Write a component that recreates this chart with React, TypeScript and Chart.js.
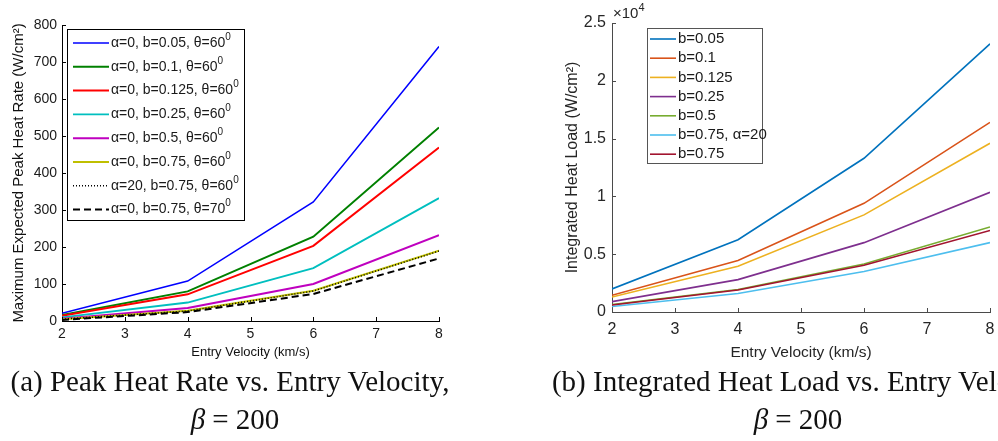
import React, { useEffect, useRef } from 'react';
import { Chart, registerables } from 'chart.js';

Chart.register(...registerables);

// ---------- data ----------
const velocities = [2, 4, 6, 8];
const velocityTicks = [2, 3, 4, 5, 6, 7, 8];

// (a) Maximum expected peak heat rate, W/cm^2
const peakLabels = [
  'α=0, b=0.05, θ=60^0',
  'α=0, b=0.1, θ=60^0',
  'α=0, b=0.125, θ=60^0',
  'α=0, b=0.25, θ=60^0',
  'α=0, b=0.5, θ=60^0',
  'α=0, b=0.75, θ=60^0',
  'α=20, b=0.75, θ=60^0',
  'α=0, b=0.75, θ=70^0',
];
const peakB005 = [21, 108, 322, 742];
const peakB01 = [16, 80, 228, 523];
const peakB0125 = [14, 72, 203, 469];
const peakB025 = [10, 50, 143, 332];
const peakB05 = [6, 35, 100, 232];
const peakB075 = [5, 28, 82, 190];
const peakB075a20 = [5, 27, 81, 189];
const peakB075t70 = [3, 24, 73, 169];
const peakSeries = [peakB005, peakB01, peakB0125, peakB025, peakB05, peakB075, peakB075a20, peakB075t70];
const peakYTicks = [0, 100, 200, 300, 400, 500, 600, 700, 800];

// (b) Integrated heat load, W/cm^2
const loadLabels = ['b=0.05', 'b=0.1', 'b=0.125', 'b=0.25', 'b=0.5', 'b=0.75, α=20', 'b=0.75'];
const loadB005 = [2000, 6250, 13300, 23200];
const loadB01 = [1450, 4450, 9400, 16400];
const loadB0125 = [1300, 3950, 8400, 14600];
const loadB025 = [900, 2800, 6000, 10350];
const loadB05 = [650, 1950, 4150, 7350];
const loadB075a20 = [480, 1600, 3500, 6000];
const loadB075 = [600, 1900, 4050, 7050];
const loadSeries = [loadB005, loadB01, loadB0125, loadB025, loadB05, loadB075a20, loadB075];
const loadYTicks = [0, 5000, 10000, 15000, 20000, 25000];

// ---------- styles ----------
const peakColors = ['#0000FF', '#008000', '#FF0000', '#00BFBF', '#BF00BF', '#BFBF00', '#000000', '#000000'];
const peakWidths = [1.5, 2, 2, 1.8, 2, 2, 1.5, 2];
const peakDashes: number[][] = [[], [], [], [], [], [], [1, 2], [7, 4]];
const loadColors = ['#0072BD', '#D95319', '#EDB120', '#7E2F8E', '#77AC30', '#4DBEEE', '#A2142F'];

const SANS = '"Liberation Sans", Arial, sans-serif';

function drawRich(ctx: CanvasRenderingContext2D, text: string, x: number, y: number, size: number, family: string) {
  let cx = x;
  const parts = text.split('^');
  parts.forEach((p, i) => {
    let rest = p;
    if (i > 0 && p.length) {
      const sup = p[0];
      rest = p.slice(1);
      ctx.font = `${Math.round(size * 0.7)}px ${family}`;
      ctx.fillText(sup, cx, y - size * 0.42);
      cx += ctx.measureText(sup).width;
    }
    ctx.font = `${size}px ${family}`;
    ctx.fillText(rest, cx, y);
    cx += ctx.measureText(rest).width;
  });
}

const boxLegend = {
  id: 'boxLegend',
  afterDatasetsDraw(chart: any, _args: any, o: any) {
    const ctx: CanvasRenderingContext2D = chart.ctx;
    const ca = chart.chartArea;
    const x = ca.left + o.dx;
    const y = ca.top + o.dy;
    ctx.save();
    ctx.fillStyle = '#ffffff';
    ctx.fillRect(x, y, o.w, o.h);
    ctx.strokeStyle = o.borderColor;
    ctx.lineWidth = 1;
    ctx.strokeRect(x + 0.5, y + 0.5, o.w, o.h);
    chart.data.datasets.forEach((ds: any, i: number) => {
      const yy = y + o.first + i * o.rowH;
      ctx.setLineDash(ds.borderDash || []);
      ctx.strokeStyle = ds.borderColor;
      ctx.lineWidth = ds.borderWidth;
      ctx.beginPath();
      ctx.moveTo(x + o.s0, yy);
      ctx.lineTo(x + o.s1, yy);
      ctx.stroke();
      ctx.setLineDash([]);
      ctx.fillStyle = o.color;
      ctx.textBaseline = 'middle';
      ctx.textAlign = 'left';
      drawRich(ctx, ds.label, x + o.tx, yy, o.size, SANS);
    });
    ctx.restore();
  },
};

const inwardTicks = {
  id: 'inwardTicks',
  afterDraw(chart: any, _args: any, o: any) {
    const ctx: CanvasRenderingContext2D = chart.ctx;
    const ca = chart.chartArea;
    const xs = chart.scales.x;
    const ys = chart.scales.y;
    ctx.save();
    ctx.strokeStyle = o.color;
    ctx.lineWidth = 1;
    ctx.beginPath();
    xs.ticks.forEach((t: any) => {
      const px = Math.round(xs.getPixelForValue(t.value)) + 0.5;
      ctx.moveTo(px, ca.bottom);
      ctx.lineTo(px, ca.bottom - o.len);
    });
    ys.ticks.forEach((t: any) => {
      const py = Math.round(ys.getPixelForValue(t.value)) + 0.5;
      ctx.moveTo(ca.left, py);
      ctx.lineTo(ca.left + o.len, py);
    });
    ctx.stroke();
    if (o.exponent) {
      ctx.fillStyle = o.textColor;
      ctx.textBaseline = 'middle';
      ctx.textAlign = 'left';
      drawRich(ctx, o.exponent, ca.left + 1, 14, 15, SANS);
    }
    ctx.restore();
  },
};

function makeConfig(kind: 'peak' | 'load'): any {
  const isPeak = kind === 'peak';
  const series = isPeak ? peakSeries : loadSeries;
  const labels = isPeak ? peakLabels : loadLabels;
  const datasets = series.map((vals, i) => ({
    label: labels[i],
    data: velocities.map((v, j) => ({ x: v, y: vals[j] })),
    borderColor: isPeak ? peakColors[i] : loadColors[i],
    borderWidth: isPeak ? peakWidths[i] : 1.6,
    borderDash: isPeak ? peakDashes[i] : [],
    pointRadius: 0,
    tension: 0,
    fill: false,
    order: -i,
  }));
  const axisColor = isPeak ? '#000000' : '#4a4a4a';
  const tickColor = isPeak ? '#1a1a1a' : '#262626';
  const yTicks = isPeak ? peakYTicks : loadYTicks;
  return {
    type: 'line',
    data: { datasets },
    plugins: [inwardTicks, boxLegend],
    options: {
      responsive: false,
      animation: false,
      events: [],
      layout: { padding: isPeak ? { left: 0, top: 25, right: 31, bottom: 0 } : { left: 0, top: 23, right: 8, bottom: 0 } },
      plugins: {
        legend: { display: false },
        tooltip: { enabled: false },
        boxLegend: isPeak
          ? { dx: 5, dy: 4, w: 177, h: 191, first: 14, rowH: 23.8, s0: 6, s1: 42, tx: 44, size: 14, color: '#1a1a1a', borderColor: '#000' }
          : { dx: 35, dy: 5, w: 115, h: 135, first: 11, rowH: 19.2, s0: 3, s1: 29, tx: 31, size: 15, color: '#1a1a1a', borderColor: '#555' },
        inwardTicks: { color: axisColor, len: 4, exponent: isPeak ? null : '×10^4', textColor: tickColor },
      },
      scales: {
        x: {
          type: 'linear',
          min: 2,
          max: 8,
          afterBuildTicks: (s: any) => { s.ticks = velocityTicks.map((v) => ({ value: v })); },
          afterFit: (s: any) => { s.height = isPeak ? 49 : 58; s.paddingLeft = 0; s.paddingRight = 0; },
          grid: { display: false, drawTicks: false },
          border: { display: true, color: axisColor, width: 1 },
          ticks: {
            padding: isPeak ? 5 : 8,
            color: tickColor,
            font: { family: SANS, size: isPeak ? 14 : 16 },
            maxRotation: 0,
            autoSkip: false,
          },
          title: {
            display: true,
            text: 'Entry Velocity (km/s)',
            color: isPeak ? '#111' : '#262626',
            font: { family: SANS, size: isPeak ? 13 : 15.5 },
            padding: { top: 0, bottom: isPeak ? 10 : 8 },
          },
        },
        y: {
          type: 'linear',
          min: 0,
          max: isPeak ? 800 : 25000,
          afterBuildTicks: (s: any) => { s.ticks = yTicks.map((v) => ({ value: v })); },
          afterFit: (s: any) => { s.width = isPeak ? 62 : 132; s.paddingTop = 0; s.paddingBottom = 0; },
          grid: { display: false, drawTicks: false },
          border: { display: true, color: axisColor, width: 1 },
          ticks: {
            padding: isPeak ? 5 : 6,
            color: tickColor,
            font: { family: SANS, size: isPeak ? 14 : 16 },
            autoSkip: false,
            callback: (v: number) => (isPeak ? String(v) : String(v / 10000)),
          },
          title: {
            display: true,
            text: isPeak ? 'Maximum Expected Peak Heat Rate (W/cm²)' : 'Integrated Heat Load (W/cm²)',
            color: isPeak ? '#111' : '#262626',
            font: { family: SANS, size: isPeak ? 15 : 16 },
            padding: { top: isPeak ? 10 : 83, bottom: 0 },
          },
        },
      },
    },
  };
}

function ChartCanvas({ kind, left, width, height }: { kind: 'peak' | 'load'; left: number; width: number; height: number }) {
  const ref = useRef<HTMLCanvasElement | null>(null);
  useEffect(() => {
    if (!ref.current) return;
    const chart = new Chart(ref.current, makeConfig(kind));
    return () => chart.destroy();
  }, [kind]);
  return (
    <canvas
      ref={ref}
      width={width}
      height={height}
      style={{ position: 'absolute', left, top: 0, width, height, display: 'block' }}
    />
  );
}

const captionFont = '29px "Liberation Serif", "Times New Roman", serif';
const capBase: React.CSSProperties = { position: 'absolute', lineHeight: '32px', textAlign: 'center', font: captionFont, whiteSpace: 'nowrap' };

function Beta() {
  return (
    <>
      <span style={{ fontStyle: 'italic' }}>β</span>
      <span style={{ margin: '0 7px' }}>=</span>200
    </>
  );
}

export default function App() {
  return (
    <div
      style={{
        position: 'absolute',
        left: 0,
        top: 0,
        width: 998,
        height: 441,
        overflow: 'hidden',
        background: '#fff',
        color: '#111',
      }}
    >
      <ChartCanvas kind="peak" left={0} width={470} height={370} />
      <ChartCanvas kind="load" left={480} width={518} height={370} />
      <div style={{ ...capBase, left: 0, width: 460, top: 365 }}>(a) Peak Heat Rate vs. Entry Velocity,</div>
      <div style={{ ...capBase, left: 0, width: 470, top: 403 }}>
        <Beta />
      </div>
      <div style={{ ...capBase, left: 500, width: 612, top: 365 }}>(b) Integrated Heat Load vs. Entry Velocity,</div>
      <div style={{ ...capBase, left: 500, width: 596, top: 403 }}>
        <Beta />
      </div>
    </div>
  );
}
